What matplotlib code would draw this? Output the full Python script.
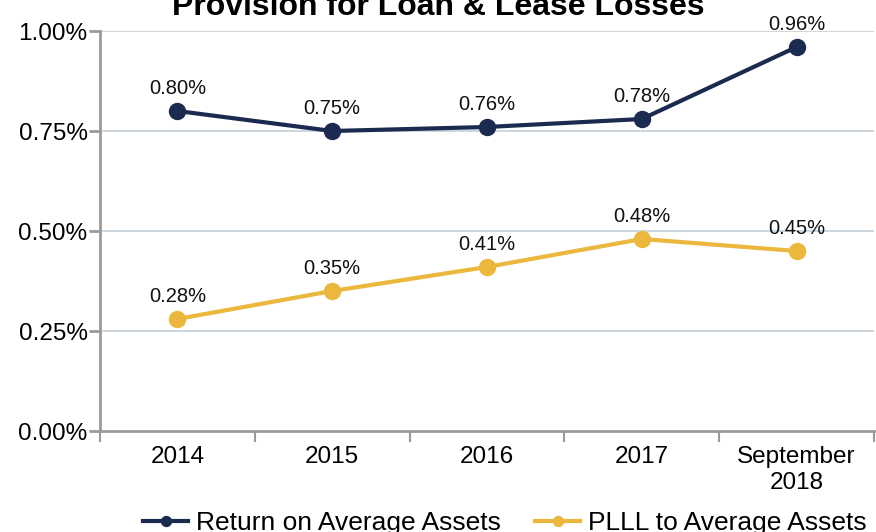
import matplotlib
matplotlib.use("Agg")
import matplotlib.pyplot as plt
from matplotlib.ticker import FixedLocator, FuncFormatter

categories = ["2014", "2015", "2016", "2017", "September\n2018"]
roaa = [0.80, 0.75, 0.76, 0.78, 0.96]
plll = [0.28, 0.35, 0.41, 0.48, 0.45]
yticks = [0.00, 0.25, 0.50, 0.75, 1.00]
title = "Provision for Loan & Lease Losses"
series_names = ["Return on Average Assets", "PLLL to Average Assets"]

navy = "#1b2a4f"
gold = "#ebb73c"
gray = "#9a9a9a"
grid = "#c3cfd9"

plt.rcParams['font.family'] = ['Liberation Sans', 'DejaVu Sans']

fig = plt.figure(figsize=(8.76, 5.32), dpi=100)
ax = fig.add_axes([100/876, 1-431/532, 774/876, 400/532])

x = list(range(len(categories)))
l1, = ax.plot(x, roaa, color=navy, lw=3, marker='o', ms=11.5, zorder=3, label=series_names[0])
l2, = ax.plot(x, plll, color=gold, lw=3, marker='o', ms=11.5, zorder=3, label=series_names[1])

for xs, vals in ((x, roaa), (x, plll)):
    for xi, v in zip(xs, vals):
        ax.annotate(f"{v:.2f}%", (xi, v), xytext=(0, 9.5), textcoords='offset points',
                    ha='center', va='bottom', fontsize=14.5, color='#111111')

ax.set_xlim(-0.5, len(categories) - 0.5)
ax.set_ylim(0, 1.0)
ax.set_yticks(yticks)
ax.yaxis.set_major_formatter(FuncFormatter(lambda v, p: f"{v:.2f}%"))
ax.set_xticks(x)
ax.set_xticklabels(categories)
ax.xaxis.set_minor_locator(FixedLocator([i - 0.5 for i in range(len(categories) + 1)]))
ax.tick_params(axis='x', which='major', length=0, labelsize=17.5, pad=11)
ax.tick_params(axis='x', which='minor', length=8, width=1.5, color=gray, direction='out')
ax.tick_params(axis='y', length=8, width=2, color=gray, labelsize=17.5, pad=1)

for y in yticks[1:]:
    ax.axhline(y, color=grid, lw=1.2, zorder=1)

for s in ('top', 'right'):
    ax.spines[s].set_visible(False)
for s in ('left', 'bottom'):
    ax.spines[s].set_color(gray)
    ax.spines[s].set_linewidth(2)
ax.spines['bottom'].set_zorder(2)

fig.text(0.5, 1 - 15/532, title, ha='center', va='baseline', fontsize=23, fontweight='bold')

fig.legend(handles=[l1, l2], loc='center', bbox_to_anchor=(505/876, 1 - 523/532),
           ncol=2, frameon=False, fontsize=19, handlelength=1.7, handletextpad=0.3,
           columnspacing=1.3, markerscale=0.62)

fig.savefig("out.png", dpi=100)
